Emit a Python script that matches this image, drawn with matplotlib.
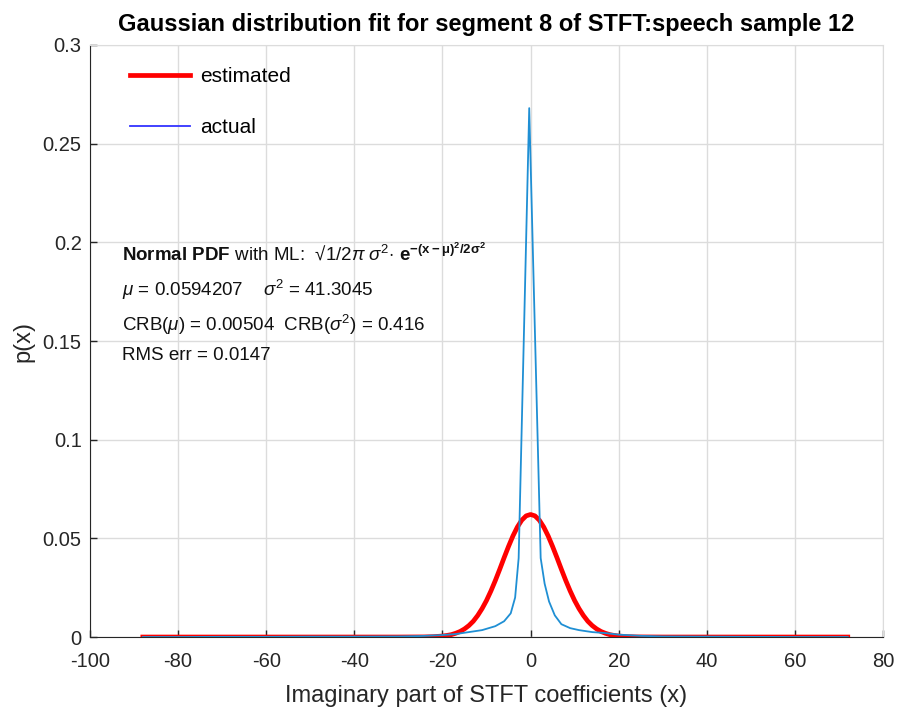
import matplotlib
matplotlib.use("Agg")
import matplotlib.pyplot as plt
from matplotlib.lines import Line2D
from matplotlib.ticker import FuncFormatter

plt.rcParams['font.family'] = ['Liberation Sans', 'DejaVu Sans']
plt.rcParams['axes.unicode_minus'] = False
plt.rcParams['mathtext.fontset'] = 'custom'
plt.rcParams['mathtext.rm'] = 'Liberation Sans'
plt.rcParams['mathtext.it'] = 'Liberation Sans:italic'
plt.rcParams['mathtext.bf'] = 'Liberation Sans:bold'

actual_x = [-88, -80, -70, -60, -50, -40, -30, -25, -20, -17, -14, -11, -8, -6,
            -4.5, -3.5, -2.7, -0.3, 2.3, 3.2, 4.2, 5.5, 7, 9, 11, 14, 17, 20,
            25, 30, 40, 50, 60, 72]
actual_p = [0.0, 0.0, 0.0001, 0.0001, 0.0002, 0.0002, 0.0003, 0.0005, 0.001,
            0.0015, 0.0025, 0.0035, 0.0055, 0.008, 0.012, 0.02, 0.04, 0.268,
            0.04, 0.027, 0.018, 0.011, 0.0065, 0.0045, 0.0035, 0.0025, 0.002,
            0.0012, 0.0006, 0.0003, 0.0002, 0.0001, 0.0, 0.0]

# estimated gaussian pdf
est_x = [-88, -40, -30, -24, -22, -20, -19, -18, -17, -16, -15, -14, -13, -12,
         -11, -10, -9, -8, -7, -6, -5, -4, -3, -2, -1, 0, 1, 2, 3, 4, 5, 6, 7,
         8, 9, 10, 11, 12, 13, 14, 15, 16, 17, 18, 19, 20, 22, 24, 30, 40, 72]
est_p = [0.0, 0.0, 0.0, 0.00006, 0.00018, 0.0005, 0.0008, 0.0012, 0.0019,
         0.0028, 0.0041, 0.0058, 0.0080, 0.0109, 0.0144, 0.0185, 0.0233,
         0.0286, 0.0343, 0.0402, 0.0459, 0.0512, 0.0557, 0.0592, 0.0614,
         0.0621, 0.0614, 0.0592, 0.0557, 0.0512, 0.0459, 0.0402, 0.0343,
         0.0286, 0.0233, 0.0185, 0.0144, 0.0109, 0.0080, 0.0058, 0.0041,
         0.0028, 0.0019, 0.0012, 0.0008, 0.0005, 0.00018, 0.00006, 0.0, 0.0,
         0.0]

xticks = [-100, -80, -60, -40, -20, 0, 20, 40, 60, 80]
yticks = [0, 0.05, 0.1, 0.15, 0.2, 0.25, 0.3]

fig = plt.figure(figsize=(8.97, 7.14), dpi=100)
ax = fig.add_axes([0.1003, 0.1078, 0.8841, 0.8292])

dark = '#262626'
ax.plot(actual_x, actual_p, color='#1f8fd4', lw=1.3, zorder=3)
ax.plot(est_x, est_p, color='#ff0000', lw=3.4, zorder=2)

ax.set_xlim(-100, 80)
ax.set_ylim(0, 0.3)
ax.set_xticks(xticks)
ax.set_yticks(yticks)
ax.yaxis.set_major_formatter(FuncFormatter(lambda v, p: '%g' % v))
ax.grid(True, color='#dcdcdc', lw=1.0)
ax.set_axisbelow(True)
ax.tick_params(direction='in', length=5, width=1, colors=dark, labelsize=14.5)
ax.tick_params(axis='x', pad=11)
ax.tick_params(axis='y', pad=6)
for s in ['left', 'bottom']:
    ax.spines[s].set_color(dark)
for s in ['top', 'right']:
    ax.spines[s].set_color('#dcdcdc')

ax.set_title('Gaussian distribution fit for segment 8 of STFT:speech sample 12',
             fontsize=17, fontweight='bold', pad=10)
ax.set_xlabel('Imaginary part of STFT coefficients (x)', fontsize=17,
              color=dark, labelpad=10)
ax.set_ylabel('p(x)', fontsize=17, color=dark, labelpad=6)

handles = [Line2D([], [], color='#ff0000', lw=3.4),
           Line2D([], [], color='#3333ff', lw=1.3)]
ax.legend(handles, ['estimated', 'actual'], loc='upper left',
          bbox_to_anchor=(0.05, 0.963), frameon=False, fontsize=15,
          handlelength=2.9, handletextpad=0.5, labelspacing=1.55,
          borderpad=0, borderaxespad=0)

tx = -92.8
fs = 13.5
ax.text(tx, 0.1946,
        r'$\mathbf{Normal\ PDF}$ with ML:  √$\mathit{1/2\pi\ \sigma^2}$'
        r'$\mathbf{\cdot\ e^{-(x-\mu)^2/2\sigma^2}}$',
        fontsize=fs, va='center', color='#111111')
ax.text(tx, 0.1759, r'$\mu$ = 0.0594207    $\sigma^2$ = 41.3045',
        fontsize=fs, va='center', color='#111111')
ax.text(tx, 0.1580, r'CRB($\mu$) = 0.00504  CRB($\sigma^2$) = 0.416',
        fontsize=fs, va='center', color='#111111')
ax.text(tx, 0.1429, 'RMS err = 0.0147', fontsize=fs, va='center',
        color='#111111')

fig.savefig('out.png', dpi=100)
